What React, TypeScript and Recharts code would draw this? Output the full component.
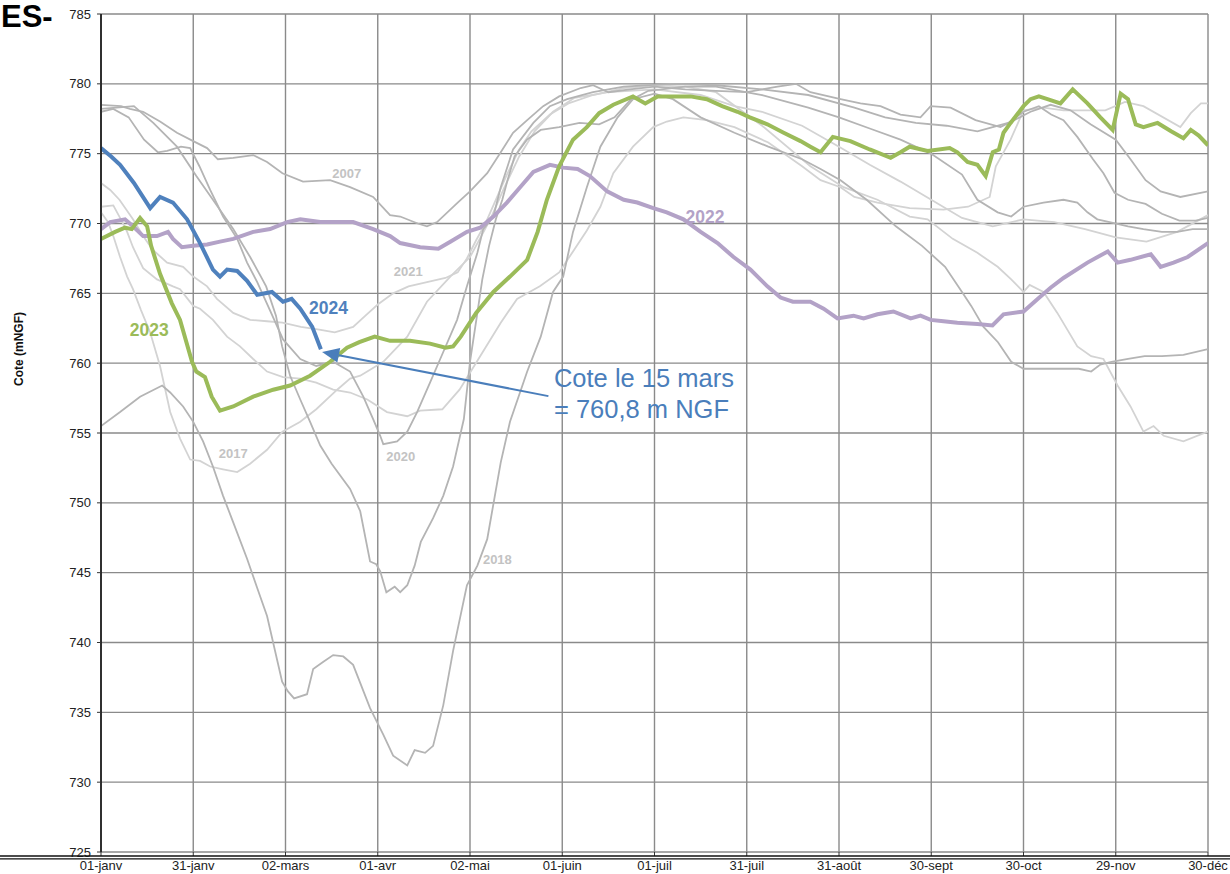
import React from 'react';
import { LineChart, Line, XAxis, YAxis, CartesianGrid, ReferenceDot, ReferenceLine } from 'recharts';

const FONT = '"Liberation Sans", Arial, sans-serif';

const xTicks = [0, 30, 60, 90, 120, 150, 180, 210, 240, 270, 300, 330, 360];
const xTickLabels = ['01-janv', '31-janv', '02-mars', '01-avr', '02-mai', '01-juin', '01-juil', '31-juil', '31-août', '30-sept', '30-oct', '29-nov', '30-déc'];
const yTicks = [725, 730, 735, 740, 745, 750, 755, 760, 765, 770, 775, 780, 785];

// [day of year, level (m NGF)]
const y2024 = [[0,775.4],[3.3,774.8],[6.2,774.2],[10.7,772.9],[16,771.1],[19.2,771.9],[23.4,771.5],[28,770.3],[32.2,768.6],[36.4,766.7],[38.7,766.2],[41,766.7],[44.3,766.6],[47.5,765.9],[50.8,764.9],[55.6,765.1],[59.2,764.4],[62,764.6],[64.8,763.9],[68.7,762.6],[71.5,761.0]];

const y2023 = [[0,768.9],[4.6,769.4],[7.8,769.7],[10,769.6],[12.7,770.4],[15,769.8],[16.3,768.4],[19.2,766.4],[23,764.3],[25.7,763.1],[29.6,760.1],[31,759.4],[33.8,759],[36,757.6],[38.7,756.6],[43,756.9],[49.5,757.6],[56,758.1],[61.5,758.4],[68,759.1],[74.5,760.1],[80,761.1],[84,761.5],[89,761.9],[94,761.6],[100.5,761.6],[107,761.4],[112,761.1],[114.5,761.2],[117,761.9],[122,763.6],[127.6,765.1],[133,766.2],[138.6,767.4],[142,769.4],[145,771.7],[149,774.1],[153.5,776],[158,776.9],[162,777.9],[166.6,778.5],[173,779.1],[177,778.6],[181,779.1],[187.4,779.1],[191.7,779.1],[197,778.9],[202,778.4],[207,778],[211,777.6],[216.7,777.1],[222,776.5],[227.5,775.9],[230.7,775.5],[234,775.1],[238,776.2],[243.7,775.9],[250,775.3],[256.8,774.7],[260,775.1],[263,775.5],[268.8,775.2],[276,775.4],[278.5,775.1],[281.8,774.4],[285,774.2],[287.7,773.4],[290,775.1],[292,775.3],[293.5,776.5],[295.8,777.2],[300,778.4],[302.3,778.9],[305,779.1],[307.8,778.9],[312,778.6],[316,779.6],[320.8,778.6],[325,777.6],[329,776.7],[331.6,779.3],[334,778.9],[336.5,777.1],[339,776.9],[343.6,777.2],[348,776.6],[352,776.1],[354.4,776.7],[357,776.3],[360,775.6]];

const y2022 = [[0,769.6],[3,770.1],[7.8,770.3],[10.4,769.8],[13.7,769.1],[18.2,769.1],[21.8,769.4],[23.4,768.9],[26.3,768.3],[30,768.4],[34.5,768.5],[38.7,768.7],[43,768.9],[49.5,769.4],[55,769.6],[60.5,770.1],[64.8,770.3],[71.3,770.1],[76.8,770.1],[82,770.1],[88.5,769.6],[94,769.1],[97.3,768.6],[103.8,768.3],[109.7,768.2],[113.6,768.7],[119,769.4],[123.3,769.7],[127.6,770.5],[132,771.5],[136.3,772.6],[140.6,773.7],[146,774.2],[150.3,774],[155,773.9],[159,773.4],[164.6,772.3],[170,771.7],[174.4,771.5],[179.6,771.1],[184,770.8],[189.4,770.3],[195,769.4],[200.5,768.6],[205.7,767.6],[211.2,766.7],[216.7,765.5],[221,764.7],[225,764.4],[230.7,764.4],[235,763.9],[239.5,763.2],[244.7,763.4],[248,763.2],[252.5,763.5],[257.7,763.7],[263.3,763.2],[266.5,763.4],[269.8,763.1],[274,763],[278.5,762.9],[285,762.8],[289.9,762.7],[293.5,763.5],[300,763.7],[304.6,764.6],[308.8,765.4],[313,766.1],[320.8,767.2],[327.4,768],[330.6,767.2],[334.8,767.4],[341.4,767.8],[344.6,766.9],[348.8,767.2],[353.4,767.6],[360,768.6]];

const y2007 = [[0,778.5],[6.5,778.4],[9.4,778.2],[13.7,778],[19.2,777.3],[24.7,776.5],[30,775.9],[34.5,775.4],[38,774.6],[43,774.7],[49.5,774.9],[54,774.4],[59,773.6],[65.7,773],[74.5,773.1],[81,772.6],[88.5,771.9],[94,770.6],[97.3,770.5],[103,770],[106,769.8],[109.3,770.1],[116,771.5],[120,772.3],[125.6,773.6],[130,775.1],[134,776.5],[138.6,777.4],[143.8,778.4],[149,779.1],[156,779.7],[160,779.9],[165,779.4],[172,779.6],[180,779.8],[190,779.6],[200,779.5],[210,779.4],[220,779.8],[226,780],[230.7,779.4],[240.5,778.9],[247,778.6],[253.5,778.4],[260,777.8],[266.5,777.6],[269.8,778.4],[276.3,778.3],[284.4,777.4],[292.5,776.9],[302.3,778],[308.8,778.5],[315.3,778.1],[321.8,777.1],[330,776],[334.8,774.6],[339.7,773.1],[344.6,772.3],[351,771.9],[360,772.3]];

const y2018 = [[0,755.5],[6.2,756.5],[12.7,757.6],[19.9,758.4],[22.5,757.9],[26.7,756.9],[30,755.8],[33.2,754.4],[36.4,752.6],[39.7,750.5],[43,748.6],[47.5,746],[50.8,743.9],[54,741.9],[58.9,737.2],[60.8,736.5],[62.8,736],[67,736.3],[69,738.1],[72.2,738.6],[75.5,739.1],[78.8,739],[82,738.4],[87.5,735.3],[91.8,733.4],[95,731.9],[99.6,731.2],[102,732.3],[105.4,732.1],[108,732.6],[111.3,735.5],[114.5,739.4],[119,744.1],[122.4,745.5],[125.6,747.4],[130,752.9],[133,755.8],[138.6,759.4],[143,761.9],[147,765.1],[150.3,766.2],[153.5,769.4],[158,772.6],[162.4,775.5],[168,777.6],[173,778.9],[180,779.3],[186,778.9],[195,777.6],[206,776.5],[217,775.5],[228,774.6],[234,773.9],[240.5,773.1],[249,771.7],[258.5,769.8],[267,768.4],[274.5,766.9],[280,765.1],[283,764.1],[287,762.6],[291.7,761.5],[296,760.1],[300,759.6],[307,759.6],[318,759.6],[322,759.4],[325,759.9],[328.6,760.1],[334,760.3],[339.4,760.5],[345,760.5],[352,760.6],[360,761]];

const y2017 = [[0,770.8],[2.3,770.1],[4,769.1],[6.2,767.6],[8.5,766.2],[10.4,765.3],[13,763.8],[16,762.2],[19.2,759.8],[22.5,756.5],[25.7,754.6],[29,753.1],[32.2,753],[35.5,752.6],[39.7,752.4],[44.3,752.2],[48.5,752.8],[54,753.8],[59,755.1],[64.8,755.8],[70,756.7],[76.8,758.1],[81,758.9],[84.3,759.1],[91.8,760.1],[99.6,761.9],[106,764.4],[113.6,766.2],[120,767.6],[126.6,770.3],[131,772.5],[136,774.8],[141,776.6],[147,778],[154,779],[165,779.4],[180,779.6],[195,779.2],[206,778.4],[215,778],[228,777],[240,775.5],[250,774.2],[260,773],[270,771.7],[280,770.4],[290,769.8],[300,770.3],[310,770.1],[320,769.6],[330,769],[340,768.7],[350,769.4],[360,770.6]];

const yLateRise = [[0,771.2],[4,771.3],[6.2,770.4],[8.5,769.4],[10.4,768.3],[13.7,766.8],[18.2,766],[23.4,765.5],[25.7,765.3],[30,764.1],[32.2,763.9],[36.4,763.1],[41,761.9],[45.2,761.2],[49.5,760.3],[54,759.4],[59.2,759],[64.8,758.9],[70,758.6],[75.5,758.1],[81,757.9],[86.6,757.4],[93,756.5],[99.6,756.2],[103.8,756.6],[111,756.7],[116.6,758.1],[123.3,760.5],[130,762.9],[135.3,764.6],[142.7,765.5],[149,766.5],[153.5,768],[158,769.5],[162.4,771.2],[166.6,773.6],[173,775.5],[179.6,776.9],[184,777.3],[189.4,777.6],[197,777.4],[206,776.9],[217,775.8],[228,774.1],[234,773.1],[240.5,772.6],[245,771.9],[252.5,771.5],[263,771.1],[274,771],[282,771.2],[289,771.9],[291,774.1],[295.8,776],[300,778.1],[306.5,778.3],[313,778.1],[320,778.1],[326.6,778.1],[333,778.7],[339,778.4],[351,776.9],[354.4,777.9],[357.7,778.6],[360,778.6]];

const y2021 = [[0,772.9],[3,772.4],[6,771.7],[10.4,770.3],[13.7,769.1],[16.9,768.1],[21.5,767.2],[26.7,766.9],[30,766.2],[34.5,765.5],[37.7,764.6],[43,763.6],[48.5,763.1],[54,763],[59,762.9],[65,762.6],[71,762.4],[76,762.2],[82,762.6],[86,763.4],[90,764.2],[95,765],[100,765.5],[106,765.8],[112,766.1],[116,766.5],[119,767.5],[122,768.8],[125,770],[128,771.5],[132,773.5],[136,775.3],[140,776.6],[146,777.8],[152,778.6],[160,779.2],[170,779.7],[180,779.9],[190,779.8],[200,779.4],[215,777],[230.7,774.1],[241.5,772.6],[252.5,771.7],[263,770.5],[268.8,770.3],[277,768.9],[285,767.9],[291.6,766.9],[296,766],[300,765.1],[302,765.6],[306.5,765.1],[311,763.6],[317.5,761.2],[322,760.5],[326,760.3],[330.6,758.4],[334.8,756.9],[339,755.1],[342.3,755.5],[345.6,754.8],[352,754.4],[360,755.1]];

const y2020 = [[0,778],[4,778.2],[9,777.6],[14,776],[18.5,775.1],[21.5,775.2],[26,775.5],[29,775.4],[32,774.1],[35.5,772.4],[39.7,770.5],[44.3,768.9],[47.5,767.2],[50.8,765.8],[54.3,764.1],[59.2,761.7],[64.8,760.3],[70,759.8],[75.5,760.1],[81,759.4],[85.3,757.6],[88.5,756],[90.8,754.8],[91.8,754.2],[96.3,754.4],[99.6,755.1],[102.8,756.5],[107,758.6],[111.3,760.8],[115.8,763.1],[119,765.5],[122.4,767.9],[124.3,769.6],[127.6,770.5],[130,772.6],[134,775.3],[140.6,777.2],[146,778.4],[151.6,778.9],[160,779.4],[170,779.8],[185,780],[200,779.9],[215,779.6],[230,779.2],[245,778.3],[255,777.6],[265,777.2],[275,777],[285,776.6],[295,777.2],[300,778],[305,778.4],[309,777.8],[313,777.4],[317.5,776.2],[322.6,774.6],[326,773.6],[329.6,772.2],[334,771.7],[339.7,771.4],[345,770.7],[350.7,770.2],[356,770.2],[360,770.4]];

const yDeep743 = [[0,778.2],[5,778.3],[10.7,778.4],[17,777.2],[24.7,775.5],[31,773.4],[36.4,771.7],[43,769.6],[48.5,767.6],[52,766.2],[53.7,765.5],[56.9,763.4],[58.9,761.2],[61.5,759.1],[64.8,757.4],[68,755.8],[71.3,754.1],[75,752.8],[81,751],[84.3,749.4],[87.5,745.8],[89.5,745.6],[90.8,745.1],[92.8,743.6],[95.5,744],[97.3,743.6],[99.6,744.1],[102,745.5],[104,747.2],[108,748.9],[111.3,750.5],[114.5,752.6],[118,756],[120,760.1],[122.4,763.6],[124,766],[126.2,768.4],[128.4,770.3],[130.5,771.7],[132.2,773.1],[134.5,774.8],[138.5,776],[143,776.7],[149,776.9],[155.6,777.2],[162,777.1],[167,777.6],[172,778.8],[178,779.5],[190,779.8],[200,779.8],[215,779.2],[230,778.3],[240,777.6],[250,776.8],[260,776],[270,775],[280,773.5],[285,771.7],[291.6,770.8],[296,770.5],[300,771.2],[306.5,771.5],[313,771.7],[317.5,771.5],[320.8,770.8],[324,770.3],[328,770.1],[334,769.8],[339,769.6],[345,769.4],[350,769.4],[355,769.6],[360,769.6]];

const grayMedium = [y2007, y2018, y2020, yDeep743];
const grayLight = [y2017, yLateRise, y2021];

const yearLabels = [
  { d: 79.9, v: 773.6, text: '2007' },
  { d: 99.9, v: 766.55, text: '2021' },
  { d: 43.0, v: 753.55, text: '2017' },
  { d: 97.5, v: 753.3, text: '2020' },
  { d: 128.9, v: 745.95, text: '2018' },
];
const mainLabels = [
  { d: 74.0, v: 764.0, text: '2024', color: '#4f81bd' },
  { d: 15.7, v: 762.4, text: '2023', color: '#9bbb59' },
  { d: 196.4, v: 770.5, text: '2022', color: '#b3a2c7' },
];
const noteLines = ['Cote le 15 mars', '= 760,8 m NGF'];
const notePos = { d: 147.3, v: 758.3 };
const arrowFrom = { d: 145.5, v: 757.64 };
const arrowTo = { d: 71.9, v: 760.8 };

const toPts = (a: number[][]) => a.map(([d, v]) => ({ d, v }));

const BLUE_TXT = '#4a7ebb';

const ArrowShape = (p: any) => {
  const { x1, y1, x2, y2 } = p;
  const dx = x2 - x1;
  const dy = y2 - y1;
  const len = Math.sqrt(dx * dx + dy * dy) || 1;
  const ux = dx / len;
  const uy = dy / len;
  const hl = 17;
  const hw = 7.5;
  const bx = x2 - ux * hl;
  const by = y2 - uy * hl;
  const px = -uy;
  const py = ux;
  const pts = `${x2},${y2} ${bx + px * hw},${by + py * hw} ${bx - px * hw},${by - py * hw}`;
  return (
    <g>
      <line x1={x1} y1={y1} x2={bx} y2={by} stroke={BLUE_TXT} strokeWidth={2} />
      <polygon points={pts} fill={BLUE_TXT} />
    </g>
  );
};

const NoteContent = (p: any) => {
  const vb = p.viewBox || {};
  const x = vb.x + (vb.width || 0) / 2;
  const y = vb.y + (vb.height || 0) / 2;
  return (
    <g>
      {noteLines.map((t, i) => (
        <text key={i} x={x} y={y + i * 31} fill={BLUE_TXT} fontSize={25.5} fontFamily={FONT} textAnchor="start">
          {t}
        </text>
      ))}
    </g>
  );
};

export default function App() {
  return (
    <div style={{ position: 'absolute', left: 0, top: 0, width: 1230, height: 874, background: '#ffffff', overflow: 'hidden' }}>
      <LineChart width={1230} height={874} margin={{ top: 14, right: 22, bottom: 0, left: 0 }}>
        <CartesianGrid stroke="#8a8a8a" strokeWidth={1.4} />
        <XAxis
          type="number"
          dataKey="d"
          domain={[0, 360]}
          ticks={xTicks}
          interval={0}
          allowDataOverflow
          height={22}
          tickSize={4}
          tickMargin={5}
          axisLine={false}
          tickLine={{ stroke: '#333' }}
          tick={{ fill: '#222', fontSize: 13, fontFamily: FONT }}
          tickFormatter={(v: number) => xTickLabels[xTicks.indexOf(v)] ?? ''}
        />
        <YAxis
          type="number"
          domain={[725, 785]}
          ticks={yTicks}
          interval={0}
          allowDataOverflow
          width={101}
          tickSize={4}
          tickMargin={6}
          axisLine={{ stroke: '#111', strokeWidth: 1.6 }}
          tickLine={{ stroke: '#333' }}
          tick={{ fill: '#222', fontSize: 13, fontFamily: FONT }}
        />
        {grayLight.map((s, i) => (
          <Line key={'l' + i} data={toPts(s)} dataKey="v" type="linear" stroke="#d3d3d3" strokeWidth={1.8} dot={false} activeDot={false} isAnimationActive={false} />
        ))}
        {grayMedium.map((s, i) => (
          <Line key={'m' + i} data={toPts(s)} dataKey="v" type="linear" stroke="#b4b4b4" strokeWidth={1.8} dot={false} activeDot={false} isAnimationActive={false} />
        ))}
        <Line data={toPts(y2022)} dataKey="v" type="linear" stroke="#b3a2c7" strokeWidth={4} dot={false} activeDot={false} isAnimationActive={false} />
        <Line data={toPts(y2023)} dataKey="v" type="linear" stroke="#9bbb59" strokeWidth={4} dot={false} activeDot={false} isAnimationActive={false} />
        <Line data={toPts(y2024)} dataKey="v" type="linear" stroke="#4f81bd" strokeWidth={4} dot={false} activeDot={false} isAnimationActive={false} />
        {yearLabels.map((l) => (
          <ReferenceDot key={l.text} x={l.d} y={l.v} r={0} fill="none" stroke="none"
            label={{ value: l.text, position: 'center', fill: '#c3c3c3', fontSize: 13, fontWeight: 'bold', fontFamily: FONT }} />
        ))}
        {mainLabels.map((l) => (
          <ReferenceDot key={l.text} x={l.d} y={l.v} r={0} fill="none" stroke="none"
            label={{ value: l.text, position: 'center', fill: l.color, fontSize: 17.5, fontWeight: 'bold', fontFamily: FONT }} />
        ))}
        <ReferenceLine segment={[{ x: arrowFrom.d, y: arrowFrom.v }, { x: arrowTo.d, y: arrowTo.v }]} shape={ArrowShape} />
        <ReferenceDot x={notePos.d} y={notePos.v} r={0} fill="none" stroke="none" label={{ content: NoteContent }} />
      </LineChart>
      <svg width={1230} height={874} style={{ position: 'absolute', left: 0, top: 0, pointerEvents: 'none' }}>
        <text x={1} y={27} fontSize={31} fontWeight="bold" fontFamily={FONT} fill="#000">ES-</text>
        <text x={0} y={0} transform="translate(22.5,349) rotate(-90)" textAnchor="middle" fontSize={12} fontWeight="bold" fontFamily={FONT} fill="#111">Cote (mNGF)</text>
        <line x1={0} x2={1230} y1={856} y2={856} stroke="#111" strokeWidth={1.3} />
        <line x1={0} x2={1230} y1={858.8} y2={858.8} stroke="#111" strokeWidth={1.3} />
      </svg>
    </div>
  );
}
